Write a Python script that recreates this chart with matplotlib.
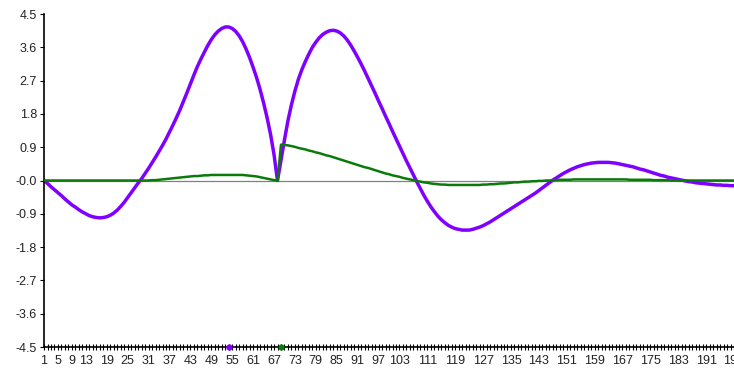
import matplotlib
matplotlib.use("Agg")
import matplotlib.pyplot as plt

plt.rcParams['font.family'] = ['Liberation Sans', 'DejaVu Sans']

x_values = list(range(1, 200))

purple_values = [
    0.00, -0.08, -0.17, -0.25, -0.33, -0.41, -0.50, -0.58, -0.66, -0.72,
    -0.79, -0.85, -0.90, -0.95, -0.98, -1.00, -1.01, -1.00, -0.98, -0.94,
    -0.88, -0.80, -0.70, -0.59, -0.46, -0.33, -0.20, -0.07, 0.05, 0.19,
    0.33, 0.48, 0.63, 0.79, 0.95, 1.12, 1.31, 1.50, 1.70, 1.91,
    2.14, 2.37, 2.61, 2.85, 3.08, 3.28, 3.47, 3.65, 3.81, 3.94,
    4.04, 4.11, 4.15, 4.15, 4.11, 4.03, 3.91, 3.75, 3.55, 3.32,
    3.06, 2.78, 2.46, 2.10, 1.70, 1.25, 0.70, 0.00, 0.55, 1.10,
    1.62, 2.05, 2.42, 2.74, 3.00, 3.22, 3.42, 3.60, 3.74, 3.86,
    3.95, 4.01, 4.05, 4.06, 4.04, 3.99, 3.91, 3.80, 3.66, 3.50,
    3.33, 3.15, 2.96, 2.76, 2.56, 2.36, 2.15, 1.95, 1.74, 1.54,
    1.33, 1.13, 0.93, 0.73, 0.53, 0.34, 0.15, -0.04, -0.22, -0.40,
    -0.56, -0.71, -0.84, -0.96, -1.06, -1.14, -1.21, -1.26, -1.30, -1.32,
    -1.34, -1.34, -1.34, -1.32, -1.29, -1.26, -1.22, -1.17, -1.12, -1.06,
    -1.00, -0.94, -0.88, -0.82, -0.76, -0.70, -0.64, -0.58, -0.52, -0.46,
    -0.40, -0.34, -0.27, -0.20, -0.13, -0.06, 0.01, 0.07, 0.13, 0.19,
    0.24, 0.29, 0.33, 0.37, 0.40, 0.43, 0.45, 0.47, 0.48, 0.49,
    0.49, 0.49, 0.49, 0.48, 0.47, 0.45, 0.43, 0.41, 0.39, 0.37,
    0.34, 0.31, 0.29, 0.26, 0.23, 0.20, 0.17, 0.14, 0.12, 0.09,
    0.07, 0.05, 0.03, 0.01, -0.01, -0.03, -0.04, -0.06, -0.07, -0.08,
    -0.09, -0.10, -0.11, -0.12, -0.12, -0.13, -0.13, -0.14, -0.14,
]

green_values = [
    0.00, 0.00, 0.00, 0.00, 0.00, 0.00, 0.00, 0.00, 0.00, 0.00,
    0.00, 0.00, 0.00, 0.00, 0.00, 0.00, 0.00, 0.00, 0.00, 0.00,
    0.00, 0.00, 0.00, 0.00, 0.00, 0.00, 0.00, 0.00, 0.00, 0.00,
    0.00, 0.01, 0.01, 0.02, 0.03, 0.04, 0.05, 0.06, 0.07, 0.08,
    0.09, 0.10, 0.11, 0.12, 0.12, 0.13, 0.14, 0.14, 0.15, 0.15,
    0.15, 0.15, 0.15, 0.15, 0.15, 0.15, 0.15, 0.15, 0.14, 0.13,
    0.12, 0.11, 0.09, 0.07, 0.05, 0.03, 0.01, 0.00, 0.97, 0.96,
    0.95, 0.93, 0.91, 0.88, 0.86, 0.84, 0.81, 0.79, 0.76, 0.74,
    0.71, 0.68, 0.66, 0.63, 0.60, 0.57, 0.54, 0.51, 0.48, 0.45,
    0.42, 0.39, 0.36, 0.34, 0.31, 0.28, 0.25, 0.22, 0.19, 0.17,
    0.14, 0.12, 0.10, 0.07, 0.05, 0.03, 0.01, -0.01, -0.03, -0.05,
    -0.06, -0.08, -0.09, -0.10, -0.11, -0.11, -0.12, -0.12, -0.12, -0.12,
    -0.12, -0.12, -0.12, -0.12, -0.12, -0.12, -0.11, -0.11, -0.10, -0.10,
    -0.09, -0.08, -0.08, -0.07, -0.06, -0.05, -0.05, -0.04, -0.03, -0.03,
    -0.02, -0.02, -0.01, -0.01, 0.00, 0.00, 0.01, 0.01, 0.02, 0.02,
    0.02, 0.02, 0.03, 0.03, 0.03, 0.03, 0.03, 0.03, 0.03, 0.03,
    0.03, 0.03, 0.03, 0.03, 0.03, 0.03, 0.03, 0.03, 0.02, 0.02,
    0.02, 0.02, 0.02, 0.02, 0.02, 0.01, 0.01, 0.01, 0.01, 0.01,
    0.00, 0.00, 0.00, 0.00, 0.00, 0.00, 0.00, 0.00, 0.00, 0.00,
    0.00, 0.00, 0.00, 0.00, 0.00, 0.00, 0.00, 0.00, 0.00,
]

x_label_positions = [1, 5, 9, 13, 19, 25, 31, 37, 43, 49, 55, 61, 67, 73, 79, 85, 91, 97,
                     103, 111, 119, 127, 135, 143, 151, 159, 167, 175, 183, 191, 199]
y_ticks = [-4.5, -3.6, -2.7, -1.8, -0.9, 0.0, 0.9, 1.8, 2.7, 3.6, 4.5]
y_tick_labels = ["-4.5", "-3.6", "-2.7", "-1.8", "-0.9", "-0.0", "0.9", "1.8", "2.7", "3.6", "4.5"]

purple_marker_x = [54]
green_marker_x = [69]

PURPLE = '#7F00FF'
GREEN = '#0B7A0B'

fig = plt.figure(figsize=(7.34, 3.69), dpi=100)
ax = fig.add_axes([0.06, 0.0596, 0.94, 0.9024])

ax.axhline(0, color='#808080', lw=0.9, zorder=1)
ax.plot(x_values, purple_values, color=PURPLE, lw=2.5, zorder=2, solid_joinstyle='round')
ax.plot(x_values, green_values, color=GREEN, lw=1.8, zorder=3)

ax.plot(purple_marker_x, [-4.5], 'o', color=PURPLE, ms=3.5, clip_on=False, zorder=5)
ax.plot(green_marker_x, [-4.5], 'o', color=GREEN, ms=3.5, clip_on=False, zorder=5)

ax.set_xlim(1, 199)
ax.set_ylim(-4.5, 4.5)

ax.set_xticks(x_values)
ax.set_xticklabels([str(v) if v in x_label_positions else '' for v in x_values])
ax.set_yticks(y_ticks)
ax.set_yticklabels(y_tick_labels)

for s in ['top', 'right']:
    ax.spines[s].set_visible(False)
for s in ['left', 'bottom']:
    ax.spines[s].set_color('black')
    ax.spines[s].set_linewidth(1.2)

ax.tick_params(axis='x', direction='inout', length=5, width=0.8, labelsize=9, pad=3, colors='black')
ax.tick_params(axis='y', direction='out', length=3, width=0.8, labelsize=9, pad=2, colors='black')
for lbl in ax.get_xticklabels() + ax.get_yticklabels():
    lbl.set_color('#222222')

fig.savefig('out.png', dpi=100)
